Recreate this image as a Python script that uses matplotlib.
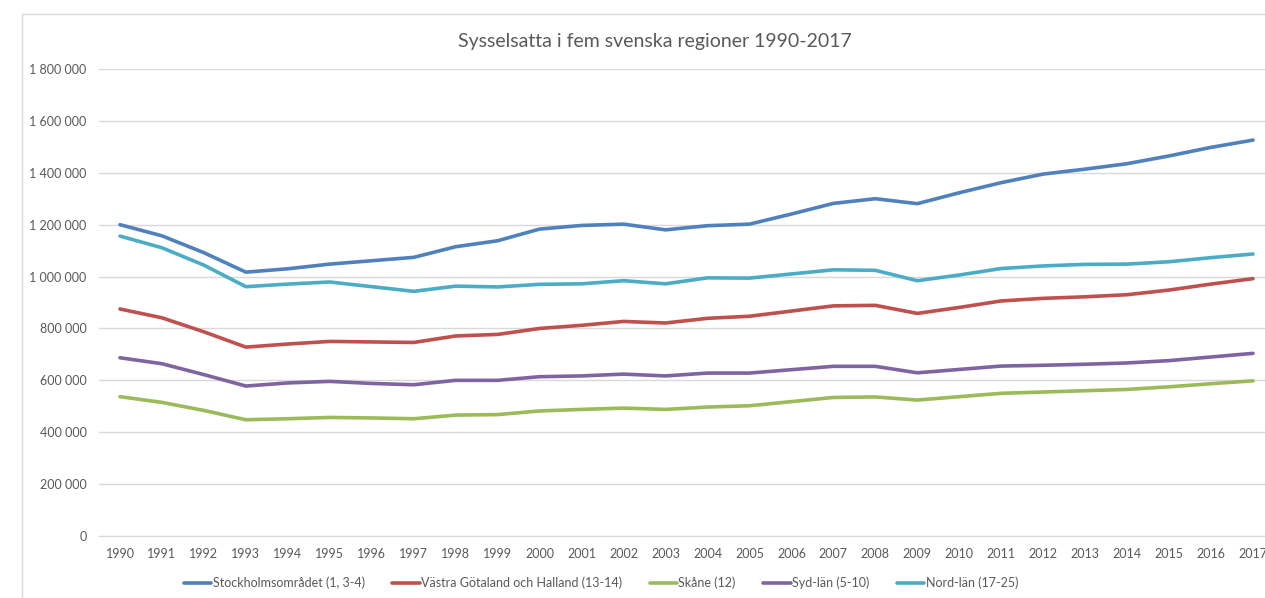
import matplotlib
matplotlib.use("Agg")
import matplotlib.pyplot as plt
from matplotlib.patches import Rectangle

plt.rcParams['font.family'] = ['Lato', 'DejaVu Sans']

years = list(range(1990, 2018))

stockholm = [1200000, 1157000, 1092000, 1017000, 1030000, 1048000, 1061000, 1074000, 1115000, 1138000,
             1183000, 1197000, 1202000, 1180000, 1196000, 1202000, 1241000, 1282000, 1300000, 1281000,
             1323000, 1362000, 1395000, 1414000, 1435000, 1465000, 1498000, 1526000]
vastra = [875000, 841000, 787000, 728000, 740000, 750000, 748000, 746000, 771000, 777000,
          800000, 812000, 827000, 821000, 839000, 847000, 867000, 887000, 889000, 858000,
          881000, 906000, 916000, 922000, 930000, 948000, 971000, 992000]
skane = [537000, 515000, 484000, 448000, 452000, 457000, 455000, 452000, 466000, 468000,
         482000, 488000, 493000, 488000, 497000, 502000, 518000, 534000, 536000, 524000,
         537000, 550000, 555000, 560000, 565000, 575000, 587000, 598000]
syd = [687000, 664000, 622000, 578000, 590000, 596000, 588000, 583000, 600000, 600000,
       614000, 617000, 624000, 617000, 628000, 628000, 641000, 654000, 654000, 629000,
       642000, 655000, 658000, 662000, 667000, 676000, 690000, 704000]
nord = [1156000, 1111000, 1044000, 961000, 971000, 979000, 961000, 943000, 963000, 960000,
        970000, 972000, 984000, 972000, 995000, 994000, 1010000, 1026000, 1024000, 984000,
        1006000, 1031000, 1041000, 1047000, 1048000, 1057000, 1073000, 1087000]

series = [
    ("Stockholmsområdet (1, 3-4)", stockholm, "#4F81BD"),
    ("Västra Götaland och Halland (13-14)", vastra, "#C0504D"),
    ("Skåne (12)", skane, "#9BBB59"),
    ("Syd-län (5-10)", syd, "#8064A2"),
    ("Nord-län (17-25)", nord, "#4BACC6"),
]

W, H = 1265, 598
fig = plt.figure(figsize=(W / 100, H / 100), dpi=100)

# chart area border
fig.patches.append(Rectangle((22 / W, -0.05), 1.2, 1 - 13.5 / H + 0.05, transform=fig.transFigure,
                             fill=False, edgecolor="#D9D9D9", linewidth=1))

ax = fig.add_axes([99 / W, 62 / H, (1274 - 99) / W, (536 - 69) / H])
for name, vals, col in series:
    ax.plot(years, vals, color=col, linewidth=2.6, label=name, solid_capstyle="round")

ax.set_xlim(1989.5, 2017.5)
ax.set_ylim(0, 1800000)
ax.set_xticks(years)
ax.set_xticklabels([str(y) for y in years])
yt = list(range(0, 1800001, 200000))
ax.set_yticks(yt)
ax.set_yticklabels(["{:,}".format(v).replace(",", " ") for v in yt])
ax.grid(axis="y", color="#D9D9D9", linewidth=1)
ax.set_axisbelow(True)
for s in ["top", "right", "left"]:
    ax.spines[s].set_visible(False)
ax.spines["bottom"].set_color("#D9D9D9")
ax.tick_params(length=0, colors="#595959", labelsize=9)
ax.tick_params(axis="x", pad=9)
ax.tick_params(axis="y", pad=9)

fig.text(655 / W, 1 - 41 / H, "Sysselsatta i fem svenska regioner 1990-2017", ha="center", va="center",
         fontsize=14, color="#595959")

fig.legend(loc="center", bbox_to_anchor=(601 / W, 1 - 583 / H), ncol=5, frameon=False,
           fontsize=9, labelcolor="#595959", handlelength=2.2, handletextpad=0.1,
           columnspacing=2.2)

fig.savefig("out.png", dpi=100)
